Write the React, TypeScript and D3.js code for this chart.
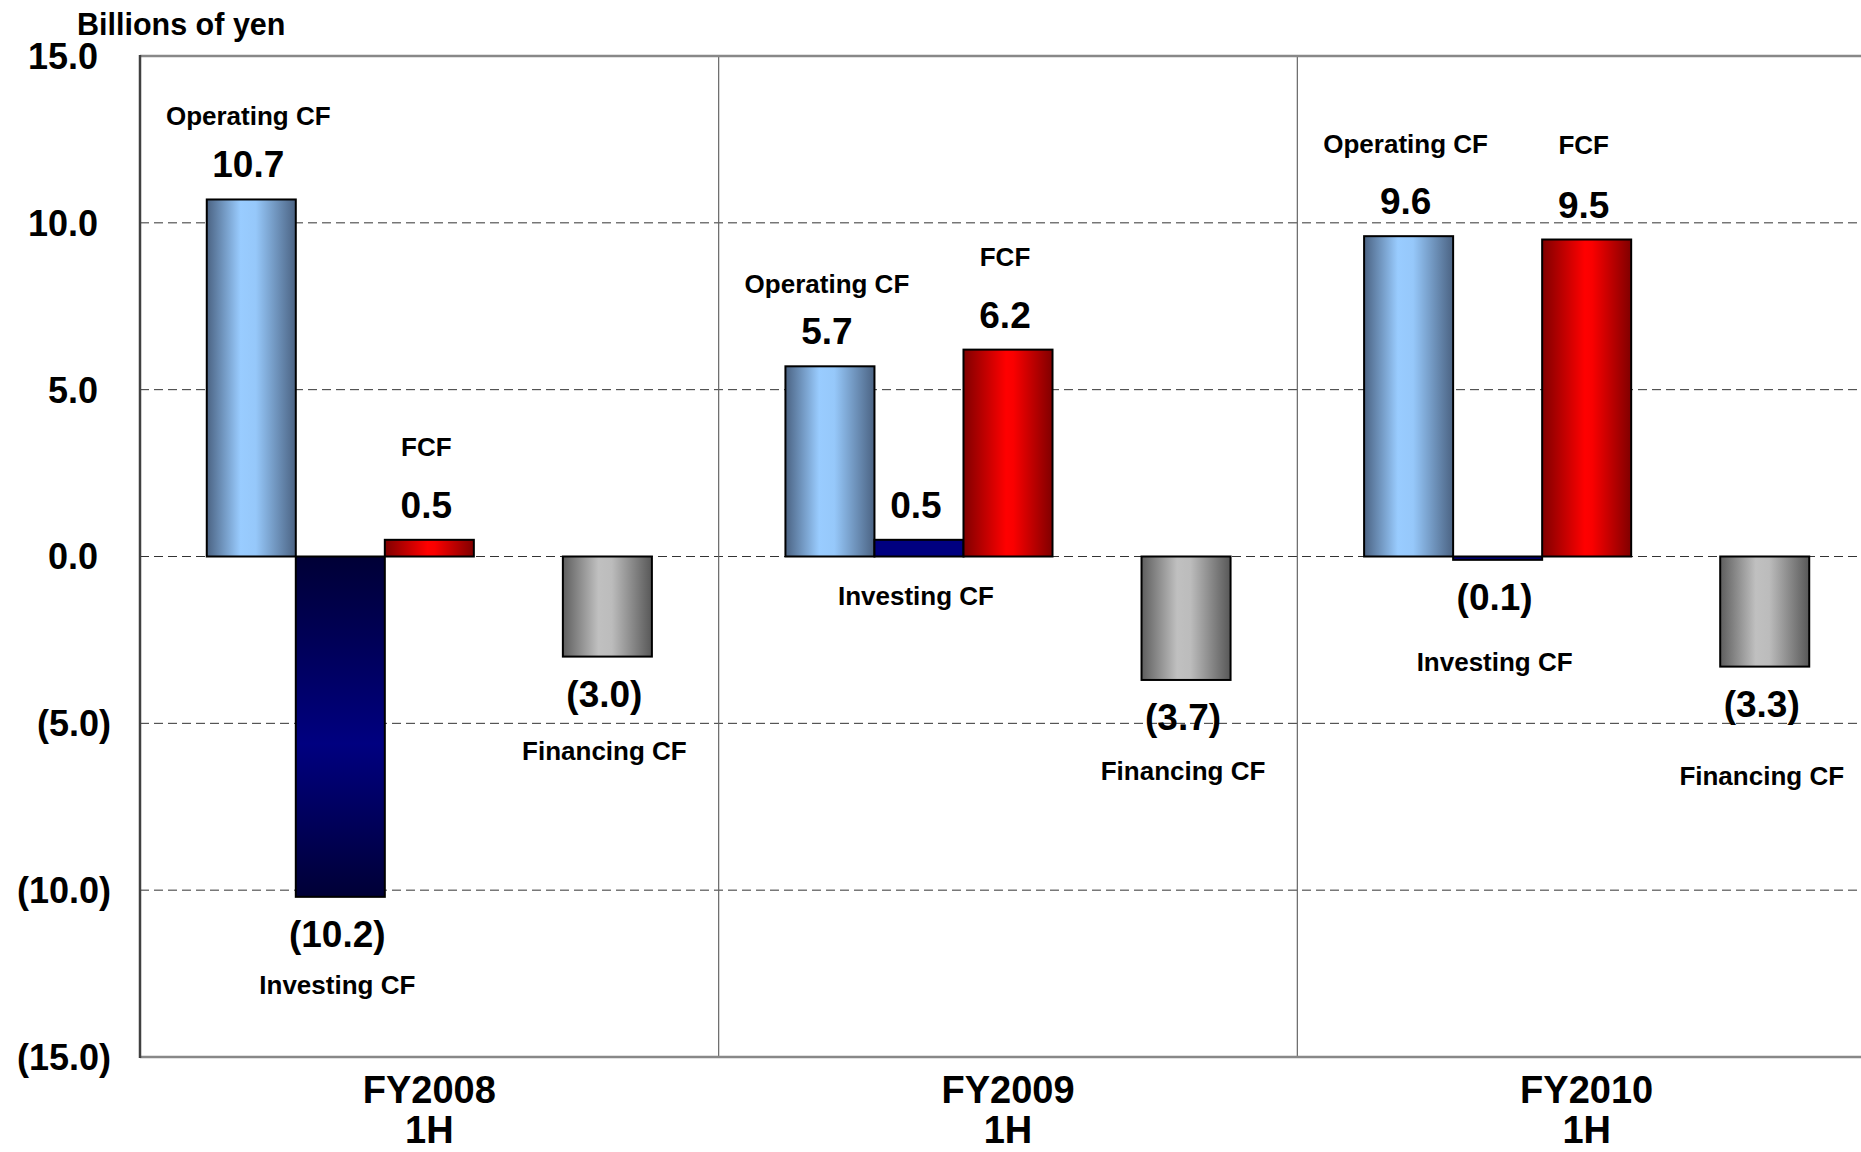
import React from 'react'
import * as d3 from 'd3'

// values in billions of yen
const categories = ['FY2008', 'FY2009', 'FY2010']
const periodLabels = ['1H', '1H', '1H']
const operatingCF = [10.7, 5.7, 9.6]
const investingCF = [-10.2, 0.5, -0.1]
const freeCF = [0.5, 6.2, 9.5]
const financingCF = [-3.0, -3.7, -3.3]
const yTicks = [-15, -10, -5, 0, 5, 10, 15]

// slot order inside each year (one empty slot before financing)
const slotKeys = ['op', 'inv', 'fcf', 'gap', 'fin']

const series = [
    { key: 'op', name: 'Operating CF', values: operatingCF, fill: 'url(#gOp)' },
    { key: 'inv', name: 'Investing CF', values: investingCF, fill: 'url(#gInv)' },
    { key: 'fcf', name: 'FCF', values: freeCF, fill: 'url(#gFcf)' },
    { key: 'fin', name: 'Financing CF', values: financingCF, fill: 'url(#gFin)' },
]

// hand placed series-name labels: offset from value label baseline (px)
const nameDy: Record<string, number[]> = {
    op: [-52, -51, -61],
    inv: [47, 87, 61],
    fcf: [-62, -62, -64],
    fin: [53, 50, 68],
}

const W = 1861
const H = 1152
const left = 140
const top = 56
const bottom = 1057
const plotW = 1736
const font = "'Liberation Sans', Arial, Helvetica, sans-serif"

const fmt = (v: number) => (v < 0 ? `(${Math.abs(v).toFixed(1)})` : v.toFixed(1))

export default function App() {
    const y = d3.scaleLinear().domain([-15, 15]).range([bottom, top])
    const x0 = d3.scaleBand<string>().domain(categories).range([left, left + plotW])
    const x1 = d3.scaleBand<string>().domain(slotKeys).range([0, x0.bandwidth()]).paddingOuter(0.75)
    const bw = x1.bandwidth()

    return (
        <svg width={W} height={H} style={{ position: 'absolute', left: 0, top: 0, background: '#fff' }}
            fontFamily={font} fontWeight="bold">
            <defs>
                <linearGradient id="gOp" x1="0" x2="1" y1="0" y2="0">
                    <stop offset="0" stopColor="#4b6383" />
                    <stop offset="0.38" stopColor="#99ccff" />
                    <stop offset="0.55" stopColor="#96c8fa" />
                    <stop offset="1" stopColor="#4b6383" />
                </linearGradient>
                <linearGradient id="gFcf" x1="0" x2="1" y1="0" y2="0">
                    <stop offset="0" stopColor="#800000" />
                    <stop offset="0.48" stopColor="#ff0000" />
                    <stop offset="0.56" stopColor="#fa0000" />
                    <stop offset="1" stopColor="#800000" />
                </linearGradient>
                <linearGradient id="gFin" x1="0" x2="1" y1="0" y2="0">
                    <stop offset="0" stopColor="#5e5e5e" />
                    <stop offset="0.4" stopColor="#c0c0c0" />
                    <stop offset="0.55" stopColor="#bcbcbc" />
                    <stop offset="1" stopColor="#585858" />
                </linearGradient>
                <linearGradient id="gInv" x1="0" x2="0" y1="0" y2="1">
                    <stop offset="0" stopColor="#000036" />
                    <stop offset="0.55" stopColor="#000080" />
                    <stop offset="1" stopColor="#000036" />
                </linearGradient>
            </defs>

            <text x={77} y={35} fontSize={30.5}>Billions of yen</text>

            {/* gridlines */}
            {yTicks.filter(t => Math.abs(t) < 15).map(t => (
                <line key={'g' + t} x1={left} x2={left + plotW} y1={y(t)} y2={y(t)}
                    stroke="#333" strokeWidth={1} strokeDasharray="9,5" />
            ))}

            {/* year separators */}
            {categories.slice(1).map(c => (
                <line key={'s' + c} x1={x0(c)!} x2={x0(c)!} y1={top} y2={bottom} stroke="#666" strokeWidth={1.2} />
            ))}

            {/* frame */}
            <line x1={left} x2={left + plotW} y1={y(15)} y2={y(15)} stroke="#888" strokeWidth={2.5} />
            <line x1={left} x2={left + plotW} y1={y(-15)} y2={y(-15)} stroke="#888" strokeWidth={2.5} />
            <line x1={left} x2={left} y1={top - 1} y2={bottom + 1} stroke="#404040" strokeWidth={2.5} />

            {/* y tick labels */}
            {yTicks.map(t => (
                <text key={'t' + t} x={t < 0 ? 111 : 98} y={y(t)} dy="0.36em" textAnchor="end" fontSize={36}>
                    {fmt(t)}
                </text>
            ))}

            {/* bars */}
            {series.map(s => s.values.map((v, i) => {
                const bx = x0(categories[i])! + x1(s.key)!
                const fill = s.key === 'inv' && Math.abs(v) < 2 ? '#000080' : s.fill
                return (
                    <rect key={s.key + i} x={bx} y={y(Math.max(v, 0))} width={bw}
                        height={Math.abs(y(v) - y(0))} fill={fill} stroke="#000" strokeWidth={2} />
                )
            }))}

            {/* value and name labels */}
            {series.map(s => s.values.map((v, i) => {
                const cx = x0(categories[i])! + x1(s.key)! + bw / 2 - 3
                const vy = v >= 0 ? y(v) - 22 : y(v) + 50
                return (
                    <g key={'l' + s.key + i}>
                        <text x={cx} y={vy} textAnchor="middle" fontSize={37}>{fmt(v)}</text>
                        <text x={cx} y={vy + nameDy[s.key][i]} textAnchor="middle" fontSize={26}>{s.name}</text>
                    </g>
                )
            }))}

            {/* category labels */}
            {categories.map((c, i) => (
                <text key={'c' + c} x={x0(c)! + x0.bandwidth() / 2} y={1103} textAnchor="middle" fontSize={38}>
                    <tspan x={x0(c)! + x0.bandwidth() / 2}>{c}</tspan>
                    <tspan x={x0(c)! + x0.bandwidth() / 2} dy={40}>{periodLabels[i]}</tspan>
                </text>
            ))}
        </svg>
    )
}
